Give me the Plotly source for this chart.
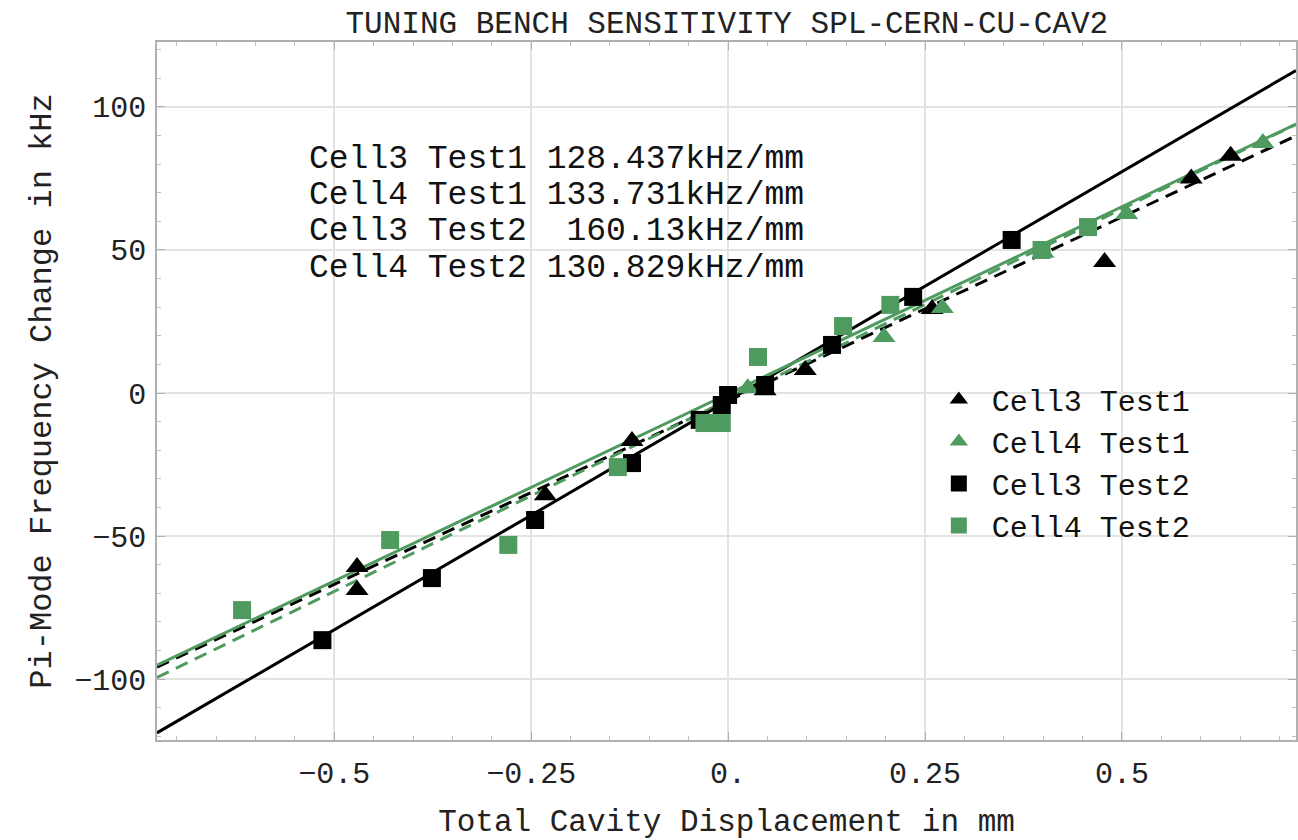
import plotly.graph_objects as go

# ---- data ----
c3t1_x = [-0.471, -0.471, -0.232, -0.122, 0.047, 0.098, 0.259, 0.478, 0.588, 0.638]
c3t1_y = [-60.8, -68.9, -35.7, -16.8, 1.0, 8.0, 29.4, 45.8, 75.0, 82.9]

c4t1_x = [0.025, 0.198, 0.272, 0.400, 0.506, 0.679]
c4t1_y = [1.7, 19.6, 29.7, 49.0, 62.6, 87.4]

c3t2_x = [-0.515, -0.376, -0.245, -0.122, -0.036, -0.008, 0.0, 0.047, 0.132, 0.235, 0.360]
c3t2_y = [-86.4, -64.7, -44.4, -24.5, -9.4, -4.2, -0.7, 2.8, 16.8, 33.6, 53.5]

c4t2_x = [-0.617, -0.429, -0.279, -0.140, -0.030, -0.008, 0.038, 0.146, 0.206, 0.398, 0.457]
c4t2_y = [-75.9, -51.4, -53.1, -25.9, -10.5, -10.5, 12.6, 23.4, 30.8, 50.0, 58.0]

series_names = ["Cell3 Test1", "Cell4 Test1", "Cell3 Test2", "Cell4 Test2"]
fit_slopes = [128.437, 133.731, 160.13, 130.829]        # kHz/mm
fit_intercepts = [-2.7, -2.5, -2.7, -0.3]               # kHz
slope_labels = ["128.437", "133.731", " 160.13", "130.829"]

x_ticks = [-0.5, -0.25, 0.0, 0.25, 0.5]
x_ticktext = ["\u22120.5", "\u22120.25", "0.", "0.25", "0.5"]
y_ticks = [-100, -50, 0, 50, 100]
y_ticktext = ["\u2212100", "\u221250", "0", "50", "100"]

x_range = [-0.725, 0.721]
y_range = [-121.3, 122.7]

# ---- styles ----
BLACK = "#000000"
GREEN = "#4F9A5F"
FONT = "Liberation Mono, Courier New, monospace"

fig = go.Figure()

# fit lines (drawn first so markers sit on top)
line_styles = [
    dict(color=BLACK, width=3, dash="13px,8px"),
    dict(color=GREEN, width=3, dash="13px,8px"),
    dict(color=BLACK, width=3, dash="solid"),
    dict(color=GREEN, width=3, dash="solid"),
]
for b, a, st, nm in zip(fit_slopes, fit_intercepts, line_styles, series_names):
    xs = list(x_range)
    ys = [a + b * xv for xv in xs]
    fig.add_trace(go.Scatter(x=xs, y=ys, mode="lines", line=st,
                             showlegend=False, hoverinfo="skip", name=nm + " fit"))

marker_specs = [
    (c3t1_x, c3t1_y, "triangle-up", BLACK, 20),
    (c4t1_x, c4t1_y, "triangle-up", GREEN, 20),
    (c3t2_x, c3t2_y, "square", BLACK, 18),
    (c4t2_x, c4t2_y, "square", GREEN, 18),
]
for (xs, ys, sym, col, sz), nm in zip(marker_specs, series_names):
    fig.add_trace(go.Scatter(x=xs, y=ys, mode="markers", name=nm,
                             marker=dict(symbol=sym, color=col, size=sz,
                                         line=dict(width=0))))

# slope text block
for i, (nm, lab) in enumerate(zip(series_names, slope_labels)):
    fig.add_annotation(x=0.132, y=0.831 - i * 0.0516, xref="paper", yref="paper",
                       text=f"{nm} {lab}kHz/mm", showarrow=False,
                       xanchor="left", yanchor="middle",
                       font=dict(family=FONT, size=33, color="#111"))

axis_common = dict(
    showgrid=True, gridcolor="#e3e3e3", gridwidth=1.5,
    showline=True, linecolor="#b0b0b0", linewidth=1.5, mirror="ticks",
    ticks="inside", ticklen=8, tickcolor="#b0b0b0", tickwidth=1,
    zeroline=False, automargin=False,
    tickfont=dict(family=FONT, size=30, color="#222"),
)

fig.update_xaxes(range=x_range, tickvals=x_ticks, ticktext=x_ticktext,
                 minor=dict(ticks="inside", ticklen=4, dtick=0.05, tick0=0,
                            tickcolor="#c0c0c0", showgrid=False),
                 ticklabelstandoff=5,
                 title=dict(text="Total Cavity Displacement in mm", standoff=40,
                            font=dict(family=FONT, size=31, color="#222")),
                 **axis_common)
fig.update_yaxes(range=y_range, tickvals=y_ticks, ticktext=y_ticktext,
                 minor=dict(ticks="inside", ticklen=4, dtick=10, tick0=0,
                            tickcolor="#c0c0c0", showgrid=False),
                 ticklabelstandoff=3,
                 title=dict(text="Pi-Mode Frequency Change in kHz", standoff=13,
                            font=dict(family=FONT, size=32, color="#222")),
                 **axis_common)

fig.update_layout(
    width=1298, height=840,
    margin=dict(l=157, r=2, t=42, b=100),
    paper_bgcolor="white", plot_bgcolor="white",
    title=dict(text="TUNING BENCH SENSITIVITY SPL-CERN-CU-CAV2",
               x=0.56, xanchor="center", y=0.974, yanchor="middle",
               yref="container",
               font=dict(family=FONT, size=31, color="#222")),
    legend=dict(x=0.675, y=0.525, xanchor="left", yanchor="top",
                bgcolor="rgba(0,0,0,0)", borderwidth=0,
                font=dict(family=FONT, size=30, color="#111"),
                itemsizing="trace", itemwidth=56, tracegroupgap=0),
    showlegend=True,
)

fig.write_html("out.html")
